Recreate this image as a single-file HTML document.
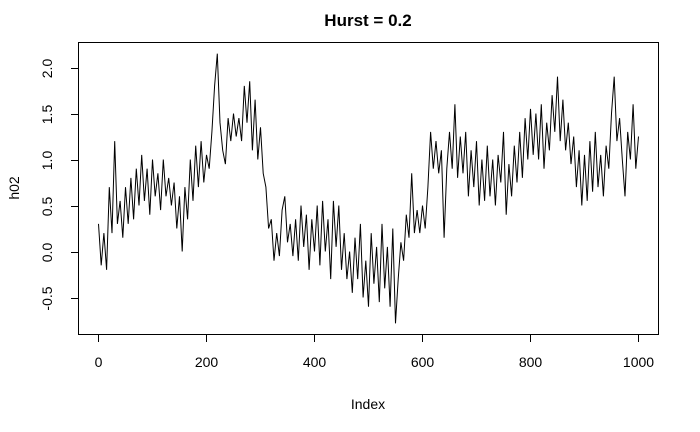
<!DOCTYPE html>
<html><head><meta charset="utf-8"><style>
body{margin:0;background:#fff;}
svg{display:block;font-family:"Liberation Sans",Arial,sans-serif;}
</style></head><body>
<svg id="chart" width="700" height="432" viewBox="0 0 700 432">
<text x="368" y="26" text-anchor="middle" font-size="17" font-weight="bold">Hurst = 0.2</text>
<rect x="78.5" y="42.5" width="580" height="292" fill="none" stroke="#000" stroke-width="1"/>
<g id="xaxis"></g>
<g id="yaxis"></g>
<text x="368" y="409" text-anchor="middle" font-size="14">Index</text>
<text transform="translate(19,188) rotate(-90)" text-anchor="middle" font-size="14">h02</text>
<path id="series" fill="none" stroke="#000" stroke-width="1"/>
</svg>
<script>
const xTicks=[0,200,400,600,800,1000];
const yTicks=[-0.5,0.0,0.5,1.0,1.5,2.0];
const yTickLabels=["-0.5","0.0","0.5","1.0","1.5","2.0"];
const step=5;
const h02=[0.3,-0.15,0.2,-0.2,0.7,0.2,1.2,0.3,0.55,0.15,0.7,0.3,0.8,0.35,0.9,0.5,1.05,0.55,0.9,0.4,
1.0,0.6,0.85,0.45,1.0,0.6,0.8,0.5,0.75,0.25,0.6,0.0,0.7,0.35,1.0,0.55,1.15,0.7,1.2,0.75,
1.05,0.9,1.3,1.8,2.15,1.4,1.1,0.95,1.45,1.2,1.5,1.25,1.45,1.2,1.8,1.4,1.85,1.1,1.65,1.0,
1.35,0.85,0.7,0.25,0.35,-0.1,0.2,-0.05,0.45,0.6,0.1,0.3,-0.05,0.35,-0.1,0.5,0.05,0.4,-0.2,0.35,
0.0,0.5,-0.15,0.55,0.0,0.35,-0.3,0.55,0.05,0.5,-0.2,0.2,-0.3,0.0,-0.45,0.15,-0.3,0.3,-0.5,-0.1,
-0.6,0.2,-0.35,0.05,-0.55,0.3,-0.4,0.05,-0.6,0.25,-0.78,-0.3,0.1,-0.1,0.4,0.15,0.85,0.2,0.45,0.2,
0.5,0.25,0.7,1.3,0.9,1.2,0.85,1.1,0.15,0.9,1.3,0.9,1.6,0.8,1.25,0.85,1.3,0.6,1.1,0.7,
1.2,0.5,1.0,0.55,1.15,0.6,1.0,0.5,1.05,0.75,1.3,0.4,0.95,0.6,1.15,0.75,1.3,0.8,1.45,1.0,
1.55,1.05,1.5,1.0,1.6,0.9,1.4,1.1,1.7,1.3,1.9,1.2,1.65,1.1,1.4,0.95,1.25,0.7,1.1,0.5,
1.05,0.55,1.2,0.65,1.3,0.7,1.05,0.6,1.15,0.9,1.5,1.9,1.2,1.45,1.0,0.6,1.3,1.0,1.6,0.9,1.25];
const NS="http://www.w3.org/2000/svg";
const sx=v=>98.5+v*0.54;
const sy=v=>251.5-v*92;
const xa=document.getElementById('xaxis'),ya=document.getElementById('yaxis');
function mk(tag,attrs,parent){const e=document.createElementNS(NS,tag);for(const k in attrs)e.setAttribute(k,attrs[k]);parent.appendChild(e);return e;}
let l=mk('line',{x1:sx(xTicks[0]),x2:sx(xTicks[xTicks.length-1]),y1:334.5,y2:334.5,stroke:'#000'},xa);


xTicks.forEach(t=>{
 const tk=mk('line',{x1:sx(t),x2:sx(t),y1:334.5,y2:342,stroke:'#000'},xa);
 
 
 const tx=mk('text',{x:sx(t),y:367,'text-anchor':'middle','font-size':'14'},xa);
 tx.textContent=String(t);
 
 
});
l=mk('line',{x1:78.5,x2:78.5,y1:sy(yTicks[0]),y2:sy(yTicks[yTicks.length-1]),stroke:'#000'},ya);


yTicks.forEach((t,i)=>{
 const y=Math.round(sy(t))+0.5;
 const tk=mk('line',{x1:71,x2:78.5,y1:y,y2:y,stroke:'#000'},ya);
 
 
 const tx=mk('text',{transform:`translate(52,${y}) rotate(-90)`,'text-anchor':'middle','font-size':'14'},ya);
 tx.textContent=yTickLabels[i];
 
 
});
document.getElementById('series').setAttribute('d',h02.map((v,i)=>(i?'L':'M')+sx(i*step).toFixed(1)+','+sy(v).toFixed(1)).join(''));
</script>
</body></html>
